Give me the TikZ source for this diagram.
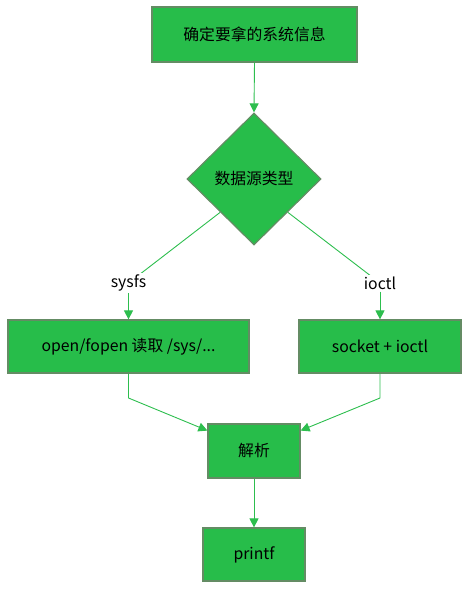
\documentclass[tikz,border=0pt]{standalone}
\usepackage{fontspec}
\setmainfont{Noto Sans CJK SC}
\usetikzlibrary{shapes.geometric,arrows.meta,calc}
\definecolor{boxgreen}{RGB}{39,189,74}
\definecolor{boxedge}{RGB}{100,140,100}
\definecolor{linegreen}{RGB}{45,190,78}
\begin{document}
\begin{tikzpicture}[x=1pt,y=-1pt,
  procbox/.style={draw=boxedge,line width=1.2pt,fill=boxgreen,inner sep=0pt,font=\fontsize{15.8}{18}\selectfont},
  decide/.style={diamond,draw=boxedge,line width=1.2pt,fill=boxgreen,inner sep=0pt,minimum width=134pt,minimum height=132pt,font=\fontsize{15.8}{18}\selectfont},
  lbl/.style={fill=white,inner sep=2pt,font=\fontsize{15.8}{18}\selectfont},
  flow/.style={draw=linegreen,line width=0.9pt,-{Triangle[width=9pt,length=9pt]}},
  plain/.style={draw=linegreen,line width=0.9pt}]
\useasboundingbox (0,0) rectangle (470,590);
\node[procbox,minimum width=205pt,minimum height=55pt] (top) at (254.5,34.5) {确定要拿的系统信息};
\node[decide] (d) at (254,179) {数据源类型};
\node[procbox,minimum width=241pt,minimum height=53pt] (left) at (128.5,346.5) {open/fopen 读取 /sys/...};
\node[procbox,minimum width=162pt,minimum height=53pt] (right) at (380,346.5) {socket + ioctl};
\node[procbox,minimum width=92pt,minimum height=54pt] (parse) at (254,451) {解析};
\node[procbox,minimum width=102pt,minimum height=53pt] (out) at (254,554.5) {printf};
\coordinate (dl) at ($(d.west)!0.5!(d.south)$);
\coordinate (dr) at ($(d.east)!0.5!(d.south)$);
\coordinate (lc) at (128.5,283);
\coordinate (rc) at (380,283);
\draw[plain] (dl) -- (lc);
\draw[plain] (dr) -- (rc);
\node[lbl] (sysfs) at (lc) {sysfs};
\node[lbl] (ioctl) at (rc) {ioctl};
\draw[flow] (top.south) -- (d.north);
\draw[flow] (sysfs.south) -- (left.north);
\draw[flow] (ioctl.south) -- (right.north);
\coordinate (lb) at (128.5,398);
\coordinate (rb) at (380,398);
\draw[flow] (left.south) -- (lb) -- ($(parse.north west)!0.13!(parse.south west)$);
\draw[flow] (right.south) -- (rb) -- ($(parse.north east)!0.13!(parse.south east)$);
\draw[flow] (parse.south) -- (out.north);
\end{tikzpicture}
\end{document}
